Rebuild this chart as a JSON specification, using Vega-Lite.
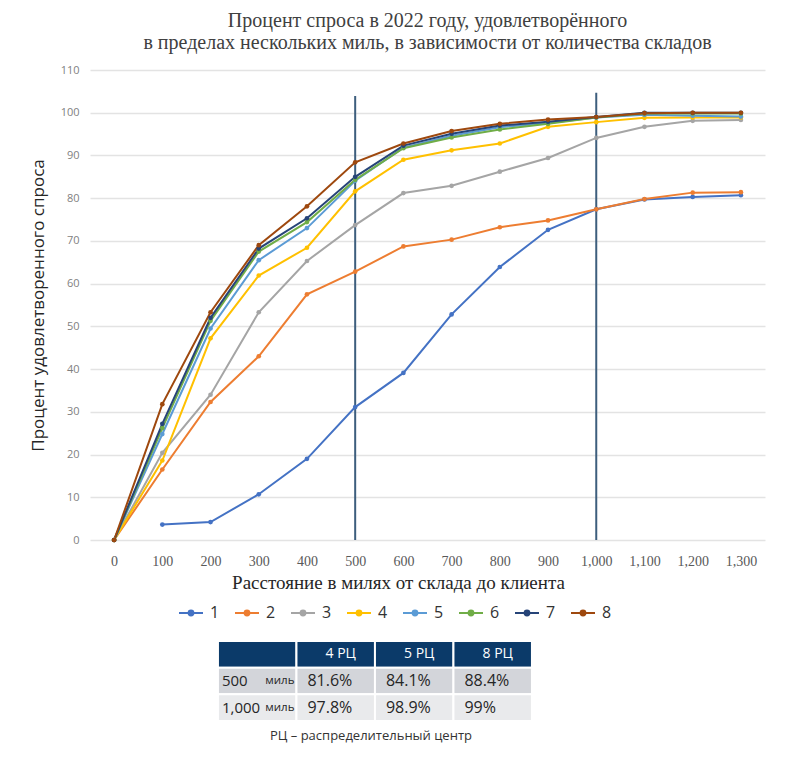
{
  "$schema": "https://vega.github.io/schema/vega-lite/v6.json",
  "background": "white",
  "padding": {"left": 29, "top": 11, "right": 20, "bottom": 10},
  "config": {"view": {"stroke": null}},
  "spacing": 101,
  "bounds": "flush",
  "resolve": {"legend": {"color": "independent"}, "scale": {"color": "independent"}},
  "datasets": {
    "series": [
      {"d": 100, "s": "1", "v": 3.6}, {"d": 200, "s": "1", "v": 4.2}, {"d": 300, "s": "1", "v": 10.7}, {"d": 400, "s": "1", "v": 19.0}, {"d": 500, "s": "1", "v": 31.1}, {"d": 600, "s": "1", "v": 39.1}, {"d": 700, "s": "1", "v": 52.8}, {"d": 800, "s": "1", "v": 63.9}, {"d": 900, "s": "1", "v": 72.6}, {"d": 1000, "s": "1", "v": 77.4}, {"d": 1100, "s": "1", "v": 79.7}, {"d": 1200, "s": "1", "v": 80.3}, {"d": 1300, "s": "1", "v": 80.7},
      {"d": 0, "s": "2", "v": 0}, {"d": 100, "s": "2", "v": 16.5}, {"d": 200, "s": "2", "v": 32.3}, {"d": 300, "s": "2", "v": 43.0}, {"d": 400, "s": "2", "v": 57.5}, {"d": 500, "s": "2", "v": 62.8}, {"d": 600, "s": "2", "v": 68.7}, {"d": 700, "s": "2", "v": 70.3}, {"d": 800, "s": "2", "v": 73.2}, {"d": 900, "s": "2", "v": 74.8}, {"d": 1000, "s": "2", "v": 77.4}, {"d": 1100, "s": "2", "v": 79.8}, {"d": 1200, "s": "2", "v": 81.3}, {"d": 1300, "s": "2", "v": 81.4},
      {"d": 0, "s": "3", "v": 0}, {"d": 100, "s": "3", "v": 20.4}, {"d": 200, "s": "3", "v": 34.0}, {"d": 300, "s": "3", "v": 53.3}, {"d": 400, "s": "3", "v": 65.3}, {"d": 500, "s": "3", "v": 73.7}, {"d": 600, "s": "3", "v": 81.2}, {"d": 700, "s": "3", "v": 82.9}, {"d": 800, "s": "3", "v": 86.2}, {"d": 900, "s": "3", "v": 89.4}, {"d": 1000, "s": "3", "v": 94.1}, {"d": 1100, "s": "3", "v": 96.7}, {"d": 1200, "s": "3", "v": 98.1}, {"d": 1300, "s": "3", "v": 98.3},
      {"d": 0, "s": "4", "v": 0}, {"d": 100, "s": "4", "v": 18.6}, {"d": 200, "s": "4", "v": 47.2}, {"d": 300, "s": "4", "v": 61.9}, {"d": 400, "s": "4", "v": 68.4}, {"d": 500, "s": "4", "v": 81.6}, {"d": 600, "s": "4", "v": 89.0}, {"d": 700, "s": "4", "v": 91.2}, {"d": 800, "s": "4", "v": 92.8}, {"d": 900, "s": "4", "v": 96.7}, {"d": 1000, "s": "4", "v": 97.8}, {"d": 1100, "s": "4", "v": 98.8}, {"d": 1200, "s": "4", "v": 98.9}, {"d": 1300, "s": "4", "v": 98.9},
      {"d": 0, "s": "5", "v": 0}, {"d": 100, "s": "5", "v": 24.8}, {"d": 200, "s": "5", "v": 49.5}, {"d": 300, "s": "5", "v": 65.5}, {"d": 400, "s": "5", "v": 73.0}, {"d": 500, "s": "5", "v": 84.1}, {"d": 600, "s": "5", "v": 91.8}, {"d": 700, "s": "5", "v": 94.6}, {"d": 800, "s": "5", "v": 96.6}, {"d": 900, "s": "5", "v": 97.6}, {"d": 1000, "s": "5", "v": 98.9}, {"d": 1100, "s": "5", "v": 99.5}, {"d": 1200, "s": "5", "v": 99.3}, {"d": 1300, "s": "5", "v": 99.1},
      {"d": 0, "s": "6", "v": 0}, {"d": 100, "s": "6", "v": 26.2}, {"d": 200, "s": "6", "v": 51.3}, {"d": 300, "s": "6", "v": 67.5}, {"d": 400, "s": "6", "v": 74.4}, {"d": 500, "s": "6", "v": 84.3}, {"d": 600, "s": "6", "v": 91.7}, {"d": 700, "s": "6", "v": 94.2}, {"d": 800, "s": "6", "v": 96.1}, {"d": 900, "s": "6", "v": 97.4}, {"d": 1000, "s": "6", "v": 98.9}, {"d": 1100, "s": "6", "v": 99.8}, {"d": 1200, "s": "6", "v": 99.8}, {"d": 1300, "s": "6", "v": 99.8},
      {"d": 0, "s": "7", "v": 0}, {"d": 100, "s": "7", "v": 27.2}, {"d": 200, "s": "7", "v": 52.0}, {"d": 300, "s": "7", "v": 68.2}, {"d": 400, "s": "7", "v": 75.3}, {"d": 500, "s": "7", "v": 85.0}, {"d": 600, "s": "7", "v": 92.3}, {"d": 700, "s": "7", "v": 95.1}, {"d": 800, "s": "7", "v": 97.0}, {"d": 900, "s": "7", "v": 97.9}, {"d": 1000, "s": "7", "v": 99.0}, {"d": 1100, "s": "7", "v": 100}, {"d": 1200, "s": "7", "v": 100}, {"d": 1300, "s": "7", "v": 100},
      {"d": 0, "s": "8", "v": 0}, {"d": 100, "s": "8", "v": 31.8}, {"d": 200, "s": "8", "v": 53.3}, {"d": 300, "s": "8", "v": 69.0}, {"d": 400, "s": "8", "v": 78.1}, {"d": 500, "s": "8", "v": 88.4}, {"d": 600, "s": "8", "v": 92.8}, {"d": 700, "s": "8", "v": 95.7}, {"d": 800, "s": "8", "v": 97.4}, {"d": 900, "s": "8", "v": 98.4}, {"d": 1000, "s": "8", "v": 99.0}, {"d": 1100, "s": "8", "v": 99.9}, {"d": 1200, "s": "8", "v": 100}, {"d": 1300, "s": "8", "v": 100}
    ],
    "rules": [
      {"d": 500, "lo": 0, "hi": 103.9},
      {"d": 1000, "lo": 0, "hi": 104.7}
    ],
    "table": [
      {"row": "h", "col": "lbl", "txt": "", "unit": ""},
      {"row": "h", "col": "4", "txt": "4 РЦ", "unit": ""},
      {"row": "h", "col": "5", "txt": "5 РЦ", "unit": ""},
      {"row": "h", "col": "8", "txt": "8 РЦ", "unit": ""},
      {"row": "r1", "col": "lbl", "txt": "500", "unit": "миль"},
      {"row": "r1", "col": "4", "txt": "81.6%", "unit": ""},
      {"row": "r1", "col": "5", "txt": "84.1%", "unit": ""},
      {"row": "r1", "col": "8", "txt": "88.4%", "unit": ""},
      {"row": "r2", "col": "lbl", "txt": "1,000", "unit": "миль"},
      {"row": "r2", "col": "4", "txt": "97.8%", "unit": ""},
      {"row": "r2", "col": "5", "txt": "98.9%", "unit": ""},
      {"row": "r2", "col": "8", "txt": "99%", "unit": ""}
    ]
  },
  "vconcat": [
    {
      "width": 675,
      "height": 470,
      "title": {
        "text": ["Процент спроса в 2022 году, удовлетворённого", "в пределах нескольких миль, в зависимости от количества складов"],
        "font": "Liberation Sans Narrow",
        "fontSize": 20,
        "fontWeight": "normal",
        "color": "#404040",
        "anchor": "middle",
        "lineHeight": 22,
        "offset": 11
      },
      "layer": [
        {
          "data": {"name": "rules"},
          "mark": {"type": "rule", "color": "#3D5E7D", "strokeWidth": 2},
          "encoding": {
            "x": {"field": "d", "type": "quantitative"},
            "y": {"field": "lo", "type": "quantitative"},
            "y2": {"field": "hi"}
          }
        },
        {
          "data": {"name": "series"},
          "mark": {"type": "line", "strokeWidth": 2, "point": {"filled": true, "size": 22}},
          "encoding": {
            "x": {
              "field": "d", "type": "quantitative",
              "scale": {"domain": [-50, 1350], "nice": false, "zero": false},
              "axis": {
                "values": [0, 100, 200, 300, 400, 500, 600, 700, 800, 900, 1000, 1100, 1200, 1300],
                "format": ",d",
                "grid": false, "domain": false, "ticks": false,
                "labelFont": "Liberation Sans Narrow", "labelFontSize": 14, "labelColor": "#595959", "labelPadding": 14,
                "title": "Расстояние в милях от склада до клиента",
                "titleX": 308,
                "titleFont": "Liberation Sans Narrow", "titleFontSize": 19, "titleFontWeight": "normal", "titleColor": "#262626", "titlePadding": 5
              }
            },
            "y": {
              "field": "v", "type": "quantitative",
              "scale": {"domain": [0, 110], "nice": false},
              "axis": {
                "values": [0, 10, 20, 30, 40, 50, 60, 70, 80, 90, 100, 110],
                "grid": true, "gridColor": "#e3e3e3", "gridWidth": 1.5,
                "domain": false, "ticks": false,
                "labelFont": "Open Sans", "labelFontSize": 11, "labelColor": "#7f7f7f", "labelPadding": 11,
                "title": "Процент удовлетворенного спроса",
                "titleFont": "Open Sans", "titleFontSize": 17, "titleFontWeight": "normal", "titleColor": "#262626", "titlePadding": 13
              }
            },
            "color": {
              "field": "s", "type": "nominal",
              "scale": {"domain": ["1", "2", "3", "4", "5", "6", "7", "8"], "range": ["#4472C4", "#ED7D31", "#A5A5A5", "#FFC000", "#5B9BD5", "#70AD47", "#264478", "#9E480E"]},
              "legend": {
                "orient": "none", "legendX": 88, "legendY": 530, "direction": "horizontal", "title": null,
                "symbolType": "M-1,0L1,0M-0.2,0a0.2,0.2 0 1,0 0.4,0a0.2,0.2 0 1,0 -0.4,0",
                "symbolSize": 576, "symbolStrokeWidth": 2,
                "labelFont": "Open Sans", "labelFontSize": 16, "labelColor": "#333333",
                "columnPadding": 11, "labelOffset": 6
              }
            }
          }
        }
      ]
    },
    {
      "width": 471,
      "height": 80,
      "data": {"name": "table"},
      "title": {
        "text": "РЦ – распределительный центр",
        "orient": "bottom", "anchor": "start", "dx": 180, "offset": 8,
        "font": "Open Sans", "fontSize": 13, "fontWeight": "normal", "color": "#333333"
      },
      "encoding": {
        "x": {"field": "col", "type": "nominal", "scale": {"domain": ["lbl", "4", "5", "8"], "paddingInner": 0, "paddingOuter": 1, "align": 0.815}, "axis": null},
        "y": {"field": "row", "type": "nominal", "scale": {"domain": ["h", "r1", "r2"], "paddingInner": 0, "paddingOuter": 0}, "axis": null}
      },
      "layer": [
        {
          "mark": {"type": "rect", "stroke": "white", "strokeWidth": 2},
          "encoding": {
            "fill": {"field": "row", "type": "nominal", "scale": {"domain": ["h", "r1", "r2"], "range": ["#0B3A69", "#D3D5DA", "#E9EAEC"]}, "legend": null}
          }
        },
        {
          "transform": [{"filter": "datum.row == 'h'"}],
          "mark": {"type": "text", "color": "white", "fontSize": 14, "font": "Open Sans", "dx": 5},
          "encoding": {"text": {"field": "txt"}}
        },
        {
          "transform": [{"filter": "datum.row != 'h' && datum.col != 'lbl'"}],
          "mark": {"type": "text", "align": "left", "dx": 11, "fontSize": 16, "font": "Open Sans", "color": "#262626"},
          "encoding": {
            "x": {"field": "col", "type": "nominal", "bandPosition": 0},
            "text": {"field": "txt"}
          }
        },
        {
          "transform": [{"filter": "datum.row != 'h' && datum.col == 'lbl'"}],
          "mark": {"type": "text", "align": "left", "dx": 4, "fontSize": 15, "font": "Open Sans", "color": "#262626"},
          "encoding": {
            "x": {"field": "col", "type": "nominal", "bandPosition": 0},
            "text": {"field": "txt"}
          }
        },
        {
          "transform": [{"filter": "datum.row != 'h' && datum.col == 'lbl'"}],
          "mark": {"type": "text", "align": "right", "dx": -2, "fontSize": 11.5, "font": "Open Sans", "color": "#262626"},
          "encoding": {
            "x": {"field": "col", "type": "nominal", "bandPosition": 1},
            "text": {"field": "unit"}
          }
        }
      ]
    }
  ]
}
